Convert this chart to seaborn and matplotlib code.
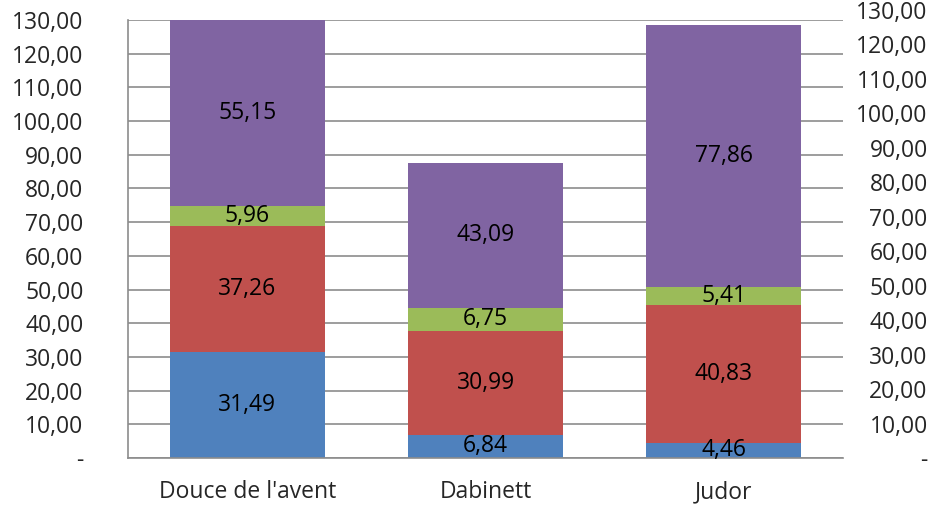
import numpy as np
import pandas as pd
import matplotlib
matplotlib.use("Agg")
import matplotlib.pyplot as plt
import seaborn as sns

categories = ["Douce de l'avent", "Dabinett", "Judor"]
series_names = ["S1", "S2", "S3", "S4"]
s1 = [31.49, 6.84, 4.46]
s2 = [37.26, 30.99, 40.83]
s3 = [5.96, 6.75, 5.41]
s4 = [55.15, 43.09, 77.86]
colors = ["#4F81BD", "#C0504D", "#9BBB59", "#8064A2"]
ticks = list(range(0, 131, 10))

sns.set_style("white")
plt.rcParams["font.family"] = ["Open Sans", "DejaVu Sans"]
FS = 16.5


def fmt(v):
    if v == 0:
        return "-"
    return f"{v:.2f}".replace(".", ",")


series = [s1, s2, s3, s4]
cum = np.cumsum(np.array(series), axis=0)

fig = plt.figure(figsize=(9.34, 5.05), dpi=100)
ax = fig.add_axes([128 / 934, 1 - 458 / 505, 715 / 934, 438 / 505])

# draw cumulative totals top-down so each segment shows
for i in range(len(series) - 1, -1, -1):
    df = pd.DataFrame({"cat": categories, "val": cum[i]})
    sns.barplot(data=df, x="cat", y="val", color=colors[i], width=0.65,
                saturation=1, ax=ax, edgecolor="none", linewidth=0, zorder=2)

for i, vals in enumerate(series):
    for j, v in enumerate(vals):
        ax.text(j, cum[i][j] - v / 2, fmt(v), ha="center", va="center",
                fontsize=FS, color="black", zorder=3)

ax.set_ylim(0, 130)
ax.set_xlim(-0.5, 2.5)
ax.set_yticks(ticks)
ax.set_yticklabels([fmt(t) for t in ticks], fontsize=FS)
ax.yaxis.grid(True, color="#8c8c8c", linewidth=1.2, zorder=0)
ax.set_axisbelow(True)
ax.tick_params(axis="y", length=0, pad=32)
ax.tick_params(axis="x", length=0, pad=16, labelsize=FS)
ax.set_xlabel("")
ax.set_ylabel("")
for side in ["top", "right"]:
    ax.spines[side].set_visible(False)
for side in ["left", "bottom"]:
    ax.spines[side].set_color("#8c8c8c")
    ax.spines[side].set_linewidth(1.2)

# secondary axis labels (slightly different scale)
ax2 = fig.add_axes([128 / 934, 1 - 458 / 505, 715 / 934, 448 / 505])
ax2.set_ylim(0, 130)
ax2.patch.set_visible(False)
ax2.set_xticks([])
ax2.yaxis.tick_right()
ax2.set_yticks(ticks)
ax2.set_yticklabels([fmt(t) for t in ticks], fontsize=FS, ha="right")
ax2.tick_params(axis="y", length=0, pad=61)
for s in ax2.spines.values():
    s.set_visible(False)

fig.savefig("out.png", dpi=100)
